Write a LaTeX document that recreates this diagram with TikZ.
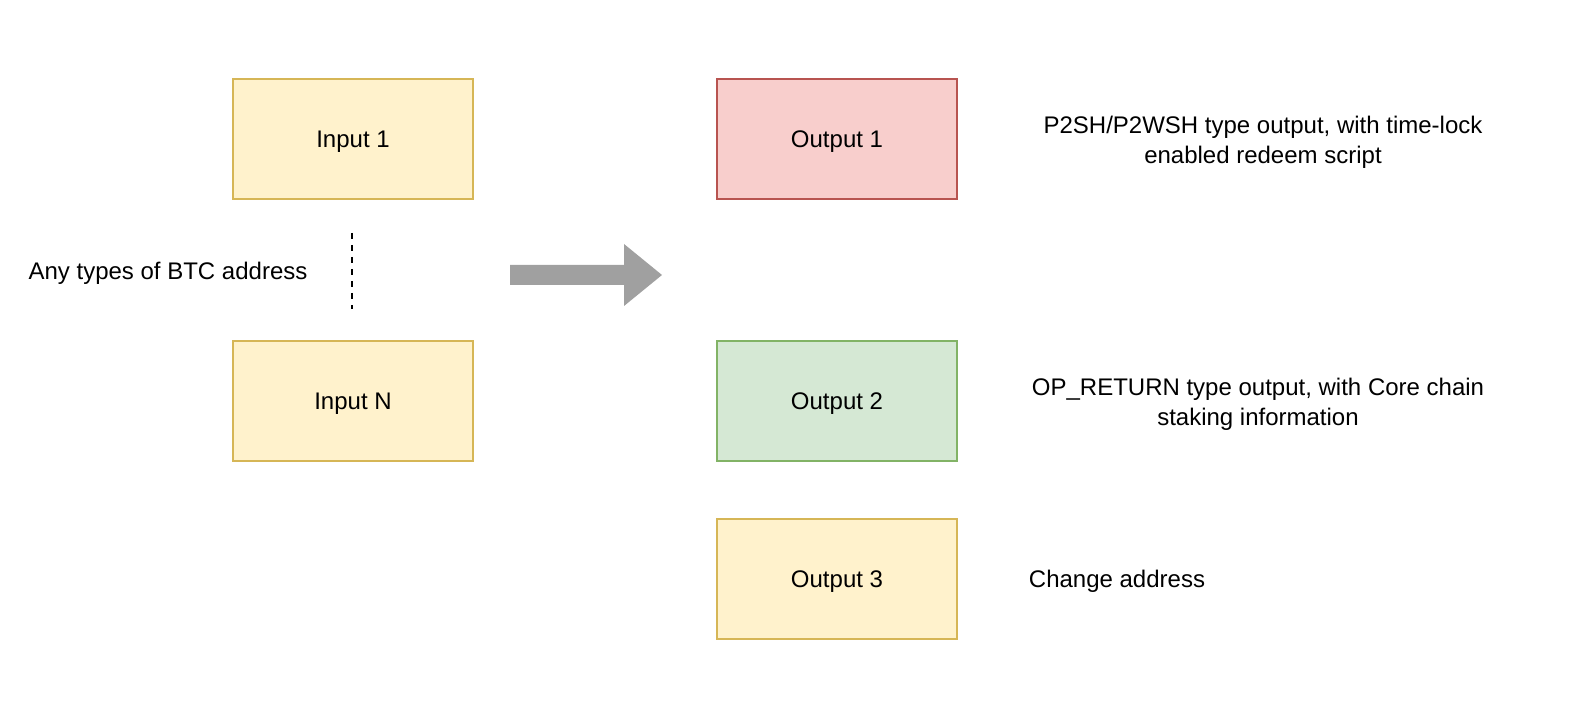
\documentclass[tikz,border=0pt]{standalone}
\usepackage{fontspec}
\setmainfont{Liberation Sans}
\definecolor{yfill}{HTML}{FFF2CC}
\definecolor{ydraw}{HTML}{D6B656}
\definecolor{rfill}{HTML}{F8CECC}
\definecolor{rdraw}{HTML}{B85450}
\definecolor{gfill}{HTML}{D5E8D4}
\definecolor{gdraw}{HTML}{82B366}
\definecolor{arrowgray}{RGB}{160,160,160}
\begin{document}
\begin{tikzpicture}[x=0.5pt,y=-0.5pt,
  txt/.style={inner sep=0pt, text height=8.6pt, text depth=0pt, font=\fontsize{12}{15}\selectfont},
  txttwo/.style={inner sep=0pt, align=center, text height=23.6pt, text depth=0pt, font=\fontsize{12}{15}\selectfont},
  box/.style={draw, line width=1pt, minimum width=120pt, minimum height=60pt, inner sep=0pt, text height=8.6pt, text depth=0pt, font=\fontsize{12}{15}\selectfont},
  ybox/.style={box, fill=yfill, draw=ydraw},
  rbox/.style={box, fill=rfill, draw=rdraw},
  gbox/.style={box, fill=gfill, draw=gdraw},
  dashline/.style={line width=1pt, dash pattern=on 3pt off 3pt}
]
\useasboundingbox (0,0) rectangle (1596,704);
\fill[white] (0,0) rectangle (1596,704);

\node[ybox] (in1) at (353,139) {Input 1};
\node[ybox] (inN) at (353,401) {Input N};
\node[rbox] (out1) at (837,139) {Output 1};
\node[gbox] (out2) at (837,401) {Output 2};
\node[ybox] (out3) at (837,579) {Output 3};

\node[txt] (anytxt) at (168,271) {Any types of BTC address};
\coordinate (dtop) at (352,233);
\coordinate (dbot) at (352,309);
\draw[dashline] (dtop) -- (dbot);

\fill[arrowgray] (510,265) -- (624,265) -- (624,244) -- (662,275) -- (624,306) -- (624,285) -- (510,285) -- cycle;

\node[txttwo] (t1) at (1263,140) {P2SH/P2WSH type output, with time-lock\\enabled redeem script};
\node[txttwo] (t2) at (1258,402) {OP\_RETURN type output, with Core chain\\staking information};
\node[txt] (t3) at (1117,579) {Change address};
\end{tikzpicture}
\end{document}
